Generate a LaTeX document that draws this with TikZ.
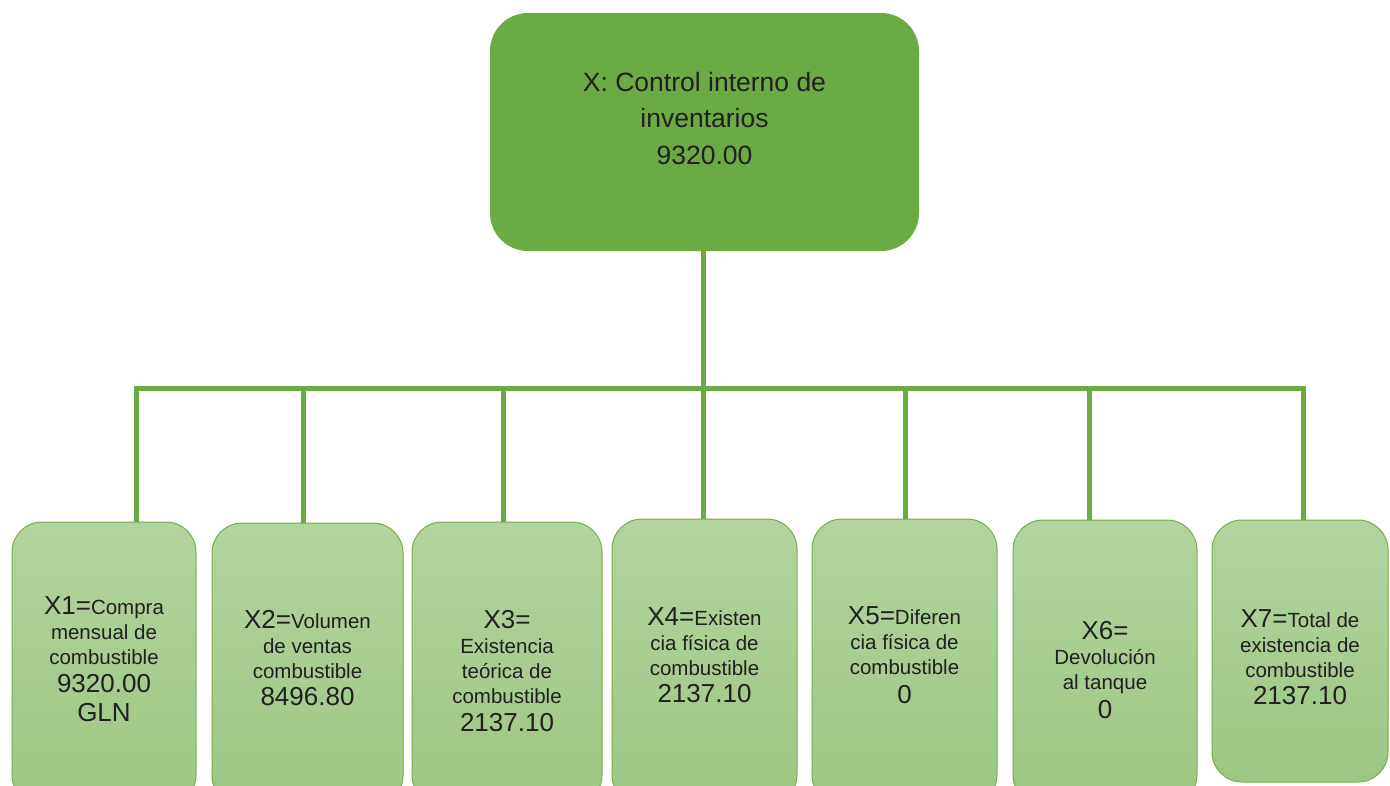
\documentclass[tikz,border=0pt]{standalone}
\usepackage{fontspec}
\setmainfont{Liberation Sans}

\definecolor{topgreen}{HTML}{6AAB43}
\definecolor{linkgreen}{HTML}{6AAB43}
\definecolor{leafedge}{HTML}{72AF4B}
\definecolor{leaftop}{HTML}{B2D49E}
\definecolor{leafbottom}{HTML}{9CC883}
\definecolor{ink}{HTML}{231F20}

\tikzset{
  link/.style={draw=linkgreen, line width=5pt},
  topbox/.style={fill=topgreen, rounded corners=38pt, minimum width=429pt,
    minimum height=238pt, anchor=north west, inner sep=0pt, outer sep=0pt},
  leafbox/.style={draw=leafedge, line width=1pt, top color=leaftop,
    bottom color=leafbottom, rounded corners=30pt, anchor=north west,
    inner sep=0pt, outer sep=0pt},
  toptext/.style={align=center, text=ink, inner sep=0pt,
    font=\fontsize{26.5}{36.5}\selectfont},
  leaftext/.style={align=center, text=ink, inner sep=0pt,
    font=\fontsize{20.5}{25}\selectfont},
}
\newcommand\Lg[1]{{\fontsize{26}{30}\selectfont #1}}

\begin{document}
\begin{tikzpicture}[x=1pt, y=-1pt]
  \useasboundingbox (0,0) rectangle (1390,785);
  \clip (0,0) rectangle (1390,785);

  % root box
  \node[topbox] (root) at (490,13) {};
  \node[toptext] (roottext) at (704.5,118.5)
    {X: Control interno de\\inventarios\\9320.00};

  % leaf boxes
  \node[leafbox, minimum width=184pt, minimum height=283pt] (b1) at (12,522) {};
  \node[leafbox, minimum width=191pt, minimum height=283pt] (b2) at (212,523) {};
  \node[leafbox, minimum width=190pt, minimum height=283pt] (b3) at (412,522) {};
  \node[leafbox, minimum width=185pt, minimum height=286pt] (b4) at (612,519) {};
  \node[leafbox, minimum width=185pt, minimum height=286pt] (b5) at (812,519) {};
  \node[leafbox, minimum width=184pt, minimum height=285pt] (b6) at (1013,520) {};
  \node[leafbox, minimum width=176pt, minimum height=262pt] (b7) at (1212,520) {};

  % leaf labels
  \node[leaftext] (t1) at (104,659)
    {\Lg{X1=}Compra\\mensual de\\combustible\\[3pt]\Lg{9320.00}\\[4pt]\Lg{GLN}};
  \node[leaftext] (t2) at (307.5,658.5)
    {\Lg{X2=}Volumen\\de ventas\\combustible\\[2pt]\Lg{8496.80}};
  \node[leaftext] (t3) at (507,671.5)
    {\Lg{X3=}\\Existencia\\teórica de\\combustible\\[3pt]\Lg{2137.10}};
  \node[leaftext] (t4) at (704.5,655.5)
    {\Lg{X4=}Existen\\cia física de\\combustible\\[2pt]\Lg{2137.10}};
  \node[leaftext] (t5) at (904.5,655)
    {\Lg{X5=}Diferen\\cia física de\\combustible\\[4pt]\Lg{0}};
  \node[leaftext] (t6) at (1105,670.5)
    {\Lg{X6=}\\Devolución\\al tanque\\[4pt]\Lg{0}};
  \node[leaftext] (t7) at (1300,657.5)
    {\Lg{X7=}Total de\\existencia de\\combustible\\[2pt]\Lg{2137.10}};

  % bus and drop points
  \coordinate (d1) at (136,388);
  \coordinate (d2) at (303,388);
  \coordinate (d3) at (503,388);
  \coordinate (d4) at (703,388);
  \coordinate (d5) at (905,388);
  \coordinate (d6) at (1089,388);
  \coordinate (d7) at (1303,388);

  % connectors
  \draw[link] (root.south -| d4) -- (d4);
  \draw[link, line join=miter] (d1 |- b1.north) -- (d1) -- (d7) -- (d7 |- b7.north);
  \draw[link] (d2) -- (d2 |- b2.north);
  \draw[link] (d3) -- (d3 |- b3.north);
  \draw[link] (d4) -- (d4 |- b4.north);
  \draw[link] (d5) -- (d5 |- b5.north);
  \draw[link] (d6) -- (d6 |- b6.north);
\end{tikzpicture}
\end{document}
